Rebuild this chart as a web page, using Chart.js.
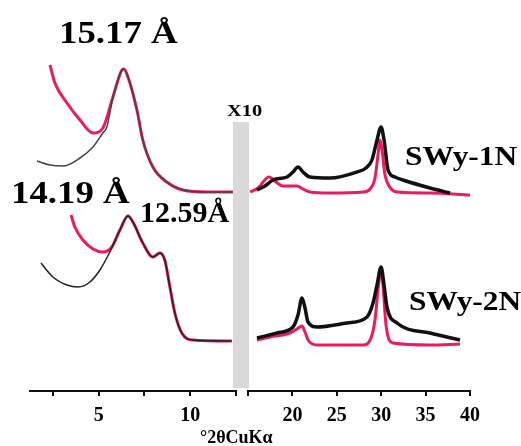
<!DOCTYPE html>
<html>
<head>
<meta charset="utf-8">
<script src="https://cdn.jsdelivr.net/npm/chart.js@4.4.1/dist/chart.umd.min.js"></script>
<style>
  body { margin: 0; background: #fff; }
  #wrap { position: relative; width: 521px; height: 446px; overflow: hidden; }
  canvas { position: absolute; top: 0; }
  .lbl { position: absolute; font-family: "Liberation Serif", "Times New Roman", serif; font-weight: bold; line-height: 1; white-space: nowrap; color: #000; transform-origin: left; }
  #bar { position: absolute; left: 233px; top: 122px; width: 16px; height: 266px; background: #d9d9d9; }
</style>
</head>
<body>
<div id="wrap">
  <div id="bar"></div>
  <canvas id="left" width="250" height="446" style="left:0"></canvas>
  <canvas id="right" width="281" height="446" style="left:240px"></canvas>
  <div class="lbl" style="left:59px;top:16px;font-size:32px;transform:scaleX(1.15)">15.17 Å</div>
  <div class="lbl" style="left:11px;top:176px;font-size:32px;transform:scaleX(1.15)">14.19 Å</div>
  <div class="lbl" style="left:140px;top:197px;font-size:30px">12.59Å</div>
  <div class="lbl" style="left:227px;top:102px;font-size:17px;transform:scaleX(1.2)">X10</div>
  <div class="lbl" style="left:405px;top:142px;font-size:28px;transform:scaleX(1.12)">SWy-1N</div>
  <div class="lbl" style="left:409px;top:287px;font-size:28px;transform:scaleX(1.12)">SWy-2N</div>
  <div class="lbl" style="left:200px;top:428px;font-size:18px">°2θCuKα</div>
</div>
<script>
// low angle part (°2θ 1.25 - 12.5), intensity in arbitrary units
var lowX1 = [2.34, 2.61, 3.27, 3.98, 4.69, 5.23, 5.78, 6.27, 6.38, 6.60, 7.09, 7.41, 7.96, 8.72, 9.60, 10.91, 12.33];
var sw1LowPink = [326, 308, 288, 271, 258, 263, 294, 321, 322, 314, 281, 251, 224, 209, 201, 199, 199];
var lowX1b = [1.63, 2.34, 3.05, 3.98, 4.69, 5.23, 5.45, 5.78, 6.27, 6.38, 6.60, 7.09, 7.41, 7.96, 8.72, 9.60, 10.91, 12.33];
var sw1LowBlack = [230, 226, 225, 233, 244, 258, 264, 294, 321, 322, 314, 281, 251, 224, 209, 201, 199, 199];

var lowX2 = [3.49, 3.70, 4.14, 4.69, 5.23, 5.72, 6.16, 6.60, 6.87, 7.41, 7.96, 8.34, 8.61, 8.89, 9.16, 9.54, 10.14, 12.27];
var sw2LowPink = [176, 164, 151, 142, 139, 144, 161, 175, 169, 148, 134, 138, 131, 104, 78, 58, 51, 50];
var lowX2b = [1.85, 2.50, 3.27, 3.87, 4.52, 5.07, 5.61, 6.16, 6.60, 6.87, 7.41, 7.96, 8.34, 8.61, 8.89, 9.16, 9.54, 10.14, 12.27];
var sw2LowBlack = [128, 114, 106, 104, 109, 121, 139, 161, 175, 169, 148, 134, 138, 131, 104, 78, 58, 51, 50];

// high angle part (°2θ 15 - 40), x10
var hiX1 = [15.23, 16.13, 17.36, 18.15, 18.94, 20.52, 21.19, 21.98, 24.23, 27.95, 28.74, 29.30, 29.64, 29.86, 30.09, 30.43, 30.88, 31.78, 35.50, 40.0];
var sw1HiPink = [199, 203, 214, 209, 205, 205, 202, 199, 198, 199, 202, 213, 236, 251, 241, 216, 205, 199, 198, 196];
var hiX1b = [16.01, 16.91, 17.82, 19.39, 20.07, 20.63, 21.19, 21.98, 24.23, 27.27, 28.29, 28.96, 29.53, 29.98, 30.32, 30.77, 31.55, 32.45, 35.50, 37.75];
var sw1HiBlack = [201, 205, 211, 214, 219, 224, 219, 214, 213, 219, 223, 231, 251, 264, 251, 221, 214, 211, 203, 198];

var hiX2 = [16.01, 17.48, 19.73, 20.52, 21.08, 21.42, 21.76, 22.77, 27.95, 28.85, 29.30, 29.64, 29.98, 30.20, 30.54, 31.33, 35.50, 38.87];
var sw2HiPink = [51, 54, 58, 62, 65, 59, 51, 46, 46, 53, 71, 101, 121, 106, 66, 48, 46, 47];
var hiX2b = [16.01, 18.27, 20.07, 20.63, 21.08, 21.42, 21.76, 22.77, 26.15, 28.40, 29.08, 29.53, 29.98, 30.32, 30.65, 31.78, 35.50, 38.87];
var sw2HiBlack = [53, 58, 64, 76, 93, 83, 69, 64, 68, 74, 88, 106, 124, 106, 84, 68, 58, 51];

var lowTicks = [2.5, 5, 7.5, 10, 12.5];
var lowLabels = [5, 10];
var hiTicks = [15, 20, 25, 30, 35, 40];
var hiLabels = [20, 25, 30, 35, 40];

var PINK = '#ee1a5e';
var BLACK = '#111';

function pts(xs, ys) {
    return xs.map(function (x, i) { return { x: x, y: ys[i] }; });
}

function line(xs, ys, color, w) {
    return {
        data: pts(xs, ys),
        borderColor: color,
        borderWidth: w,
        pointRadius: 0,
        fill: false,
        cubicInterpolationMode: 'monotone'
    };
}

function makeChart(id, datasets, xmin, xmax, ticks, labels, pad) {
    var ctx = document.getElementById(id).getContext('2d');
    return new Chart(ctx, {
        type: 'line',
        data: { datasets: datasets },
        options: {
            responsive: false,
            animation: false,
            layout: { padding: pad },
            plugins: { legend: { display: false }, tooltip: { enabled: false } },
            scales: {
                x: {
                    type: 'linear',
                    min: xmin,
                    max: xmax,
                    afterBuildTicks: function (scale) {
                        scale.ticks = ticks.map(function (v) { return { value: v }; });
                    },
                    afterFit: function (scale) { scale.height = 55; },
                    ticks: {
                        autoSkip: false,
                        maxRotation: 0,
                        padding: 8,
                        color: '#000',
                        font: { family: 'Liberation Serif', size: 20, weight: 'bold' },
                        callback: function (v) { return labels.indexOf(v) >= 0 ? String(v) : ''; }
                    },
                    grid: { drawOnChartArea: false, drawTicks: true, tickLength: 5, color: '#111', lineWidth: 2 },
                    border: { display: true, color: '#111', width: 2 }
                },
                y: { display: false, min: 0, max: 391 }
            }
        }
    });
}

window.onload = function () {
    makeChart('left', [
        line(lowX1b, sw1LowBlack, '#444', 1.5),
        line(lowX1, sw1LowPink, PINK, 3),
        line(lowX2b, sw2LowBlack, '#222', 1.5),
        line(lowX2, sw2LowPink, PINK, 3)
    ], 1.25, 12.5, lowTicks, lowLabels, { left: 30, right: 14, top: 0, bottom: 0 });

    makeChart('right', [
        line(hiX1b, sw1HiBlack, BLACK, 3.5),
        line(hiX1, sw1HiPink, PINK, 3),
        line(hiX2b, sw2HiBlack, BLACK, 3.5),
        line(hiX2, sw2HiPink, PINK, 3)
    ], 15, 40, hiTicks, hiLabels, { left: 8, right: 51, top: 0, bottom: 0 });
};
</script>
</body>
</html>
